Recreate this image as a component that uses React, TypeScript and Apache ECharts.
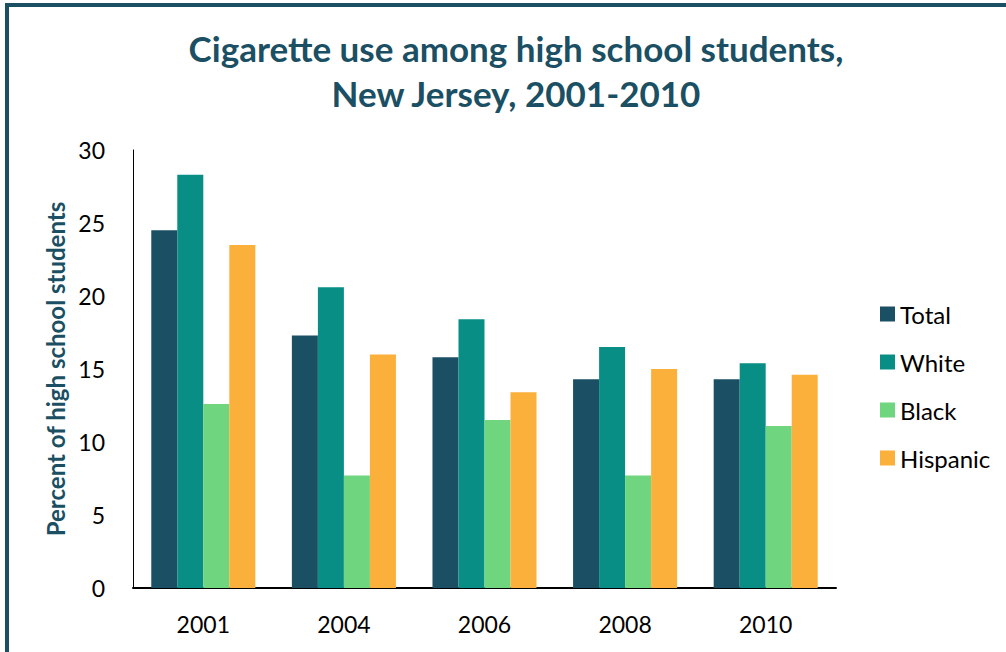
import React, { useEffect, useRef } from "react";
import * as echarts from "echarts";

const years = ["2001", "2004", "2006", "2008", "2010"];
const totalValues = [24.5, 17.3, 15.8, 14.3, 14.3];
const whiteValues = [28.3, 20.6, 18.4, 16.5, 15.4];
const blackValues = [12.6, 7.7, 11.5, 7.7, 11.1];
const hispanicValues = [23.5, 16.0, 13.4, 15.0, 14.6];

const seriesNames = ["Total", "White", "Black", "Hispanic"];
const seriesColors = ["#1B4F63", "#098E86", "#6FD57F", "#FBB03B"];

export default function App() {
  const ref = useRef<HTMLDivElement>(null);
  useEffect(() => {
    if (!ref.current) return;
    const chart = echarts.init(ref.current, null, { renderer: "svg" });
    const font = "Lato";
    const values = [totalValues, whiteValues, blackValues, hispanicValues];
    chart.setOption({
      animation: false,
      backgroundColor: "#ffffff",
      title: {
        text: "Cigarette use among high school students,\nNew Jersey, 2001-2010",
        left: 511,
        top: 20,
        textAlign: "center",
        textStyle: {
          fontFamily: font,
          fontWeight: "bold",
          fontSize: 35,
          lineHeight: 45,
          color: "#1B4F63",
        },
      },
      graphic: [
        {
          type: "rect",
          shape: { x: 7, y: 5, width: 1020, height: 680 },
          style: { fill: "none", stroke: "#1B4F63", lineWidth: 4 },
          silent: true,
        },
      ],
      legend: {
        orient: "vertical",
        left: 875,
        top: 297,
        itemWidth: 15,
        itemHeight: 15,
        itemGap: 24,
        icon: "rect",
        textStyle: { fontFamily: font, fontSize: 24, color: "#000" },
        data: seriesNames,
      },
      grid: { left: 133, right: 170, top: 150, bottom: 64 },
      xAxis: {
        type: "category",
        data: years,
        axisLine: { lineStyle: { color: "#000", width: 2 } },
        axisTick: { show: false },
        axisLabel: { fontFamily: font, fontSize: 23, color: "#000", margin: 24 },
      },
      yAxis: {
        type: "value",
        min: 0,
        max: 30,
        interval: 5,
        name: "Percent of high school students",
        nameLocation: "middle",
        nameGap: 53,
        nameTextStyle: { fontFamily: font, fontWeight: "bold", fontSize: 24, color: "#1B4F63" },
        axisLine: { show: true, lineStyle: { color: "#000", width: 1 } },
        axisTick: { show: false },
        splitLine: { show: false },
        axisLabel: { fontFamily: font, fontSize: 23, color: "#000", margin: 28 },
      },
      series: seriesNames.map((name, i) => ({
        name,
        type: "bar",
        data: values[i],
        barGap: "0%",
        barCategoryGap: "26%",
        itemStyle: { color: seriesColors[i] },
      })),
    });
    return () => chart.dispose();
  }, []);
  return (
    <div
      ref={ref}
      style={{ position: "fixed", left: 0, top: 0, width: 1006, height: 652 }}
    />
  );
}
